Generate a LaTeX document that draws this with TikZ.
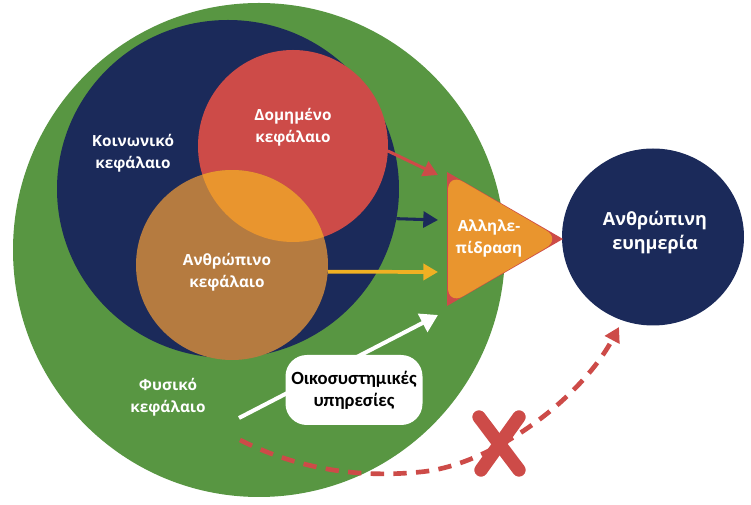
\documentclass[tikz,border=0pt]{standalone}
\usepackage{fontspec}
\setmainfont{Open Sans}
\newfontfamily\boxfont{Carlito}
\usetikzlibrary{shapes.geometric,arrows.meta}
\definecolor{cgreen}{RGB}{88,150,66}
\definecolor{cnavy}{RGB}{27,42,90}
\definecolor{cred}{RGB}{205,75,72}
\definecolor{cbrown}{RGB}{181,123,64}
\definecolor{corange}{RGB}{233,149,46}
\definecolor{cyellow}{RGB}{240,176,35}
\tikzset{
  blob/.style={ellipse, inner sep=0pt, outer sep=0pt, draw=none},
  lbl/.style={text=white, font=\bfseries\fontsize{11.5}{16.5}\selectfont, align=center, inner sep=0pt},
  arr/.style={line width=2.3pt, -{Triangle[length=11pt,width=12pt]}},
  dasharr/.style={cred, line width=3.5pt, dash pattern=on 10pt off 7pt, -{Triangle[length=11pt,width=12pt]}},
  xstroke/.style={cred, line width=10pt, line cap=round}
}
\begin{document}
\begin{tikzpicture}[x=0.75pt,y=-0.75pt]
\useasboundingbox (0,0) rectangle (751,505);
% big circles
\node[blob, fill=cgreen, minimum width=369pt, minimum height=370.5pt] (green) at (259,250) {};
\node[blob, fill=cnavy, minimum width=256.5pt, minimum height=253.5pt] (navy) at (228,189) {};
\node[blob, fill=cred, minimum width=142.5pt, minimum height=144pt] (red) at (293,146) {};
\node[blob, fill=cbrown, minimum width=144pt, minimum height=142.5pt] (brown) at (232,265) {};
\begin{scope}
  \clip (293,146) ellipse [x radius=71.25pt, y radius=72pt];
  \fill[corange] (232,265) ellipse [x radius=72pt, y radius=71.25pt];
\end{scope}
% right circle
\node[blob, fill=cnavy, minimum width=136.5pt, minimum height=132.75pt] (wellbeing) at (653,237) {};
% triangle
\fill[cred] (447,172) -- (447,306) -- (563,239) -- cycle;
\fill[corange, rounded corners=13pt] (448,173) -- (448,305) -- (561,239) -- cycle;
\node[lbl] (inter) at (489,238) {Αλληλε-\\πίδραση};
% labels
\node[lbl] (social) at (133,153) {Κοινωνικό\\κεφάλαιο};
\node[lbl] (built) at (293,127) {Δομημένο\\κεφάλαιο};
\node[lbl] (human) at (227,272) {Ανθρώπινο\\κεφάλαιο};
\node[lbl] (natural) at (168,397) {Φυσικό\\κεφάλαιο};
\node[lbl, font=\bfseries\fontsize{13.5}{18}\selectfont] (wb) at (655,233) {Ανθρώπινη\\ευημερία};
% arrow end points
\coordinate (redtip) at (438,175);
\coordinate (navytip) at (438,220);
\coordinate (yeltip) at (438,272);
\coordinate (whitetip) at (438,315);
\coordinate (whitestart) at (239,418);
\coordinate (dashstart) at (240,440);
\coordinate (dashmid) at (420,472);
\coordinate (dashtip) at (619,327);
% arrows
\draw[arr, cred] (red.-3) -- (redtip);
\draw[arr, cnavy] (navy.-10) -- (navytip);
\draw[arr, cyellow, line width=2.8pt] (brown.-4) -- (yeltip);
\draw[arr, white, line width=3pt, -{Triangle[length=13pt,width=15pt]}] (whitestart) -- (whitetip);
% ecosystem services box
\node[fill=white, rounded corners=16pt, minimum width=102.75pt, minimum height=52.5pt, align=center, inner sep=0pt,
      font=\boxfont\bfseries\fontsize{14}{16.5}\selectfont] (eco) at (354,390) {Οικοσυστημικές\\υπηρεσίες};
% dashed curve
\draw[dasharr] (dashstart) .. controls (300,470) and (360,478) .. (dashmid)
   .. controls (490,466) and (580,400) .. (dashtip);
% cross
\coordinate (xa) at (479,417);
\coordinate (xb) at (519,470);
\coordinate (xc) at (519,417);
\coordinate (xd) at (481,470);
\draw[xstroke] (xa) -- (xb);
\draw[xstroke] (xc) -- (xd);
\end{tikzpicture}
\end{document}
